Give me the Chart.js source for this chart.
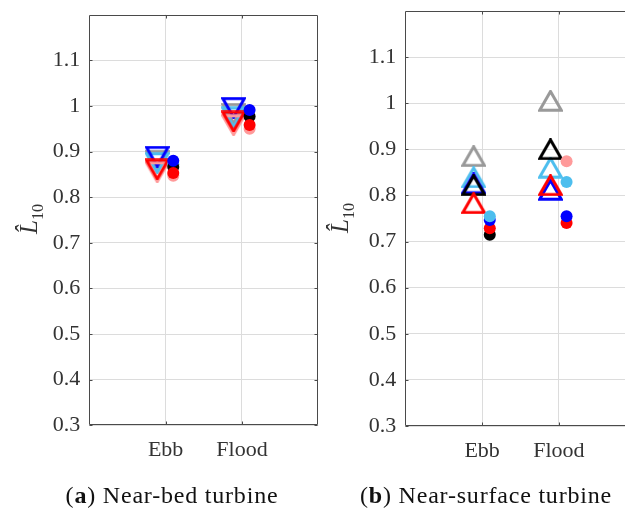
<!DOCTYPE html>
<html><head><meta charset="utf-8">
<script src="https://cdn.jsdelivr.net/npm/chart.js@4"></script>
<style>
html,body{margin:0;padding:0;background:#fff;overflow:hidden}
#wrap{position:relative;width:625px;height:508px;overflow:hidden;background:#fff}
#wrap canvas{position:absolute;top:0}
.ytitle{position:absolute;font-family:"Liberation Serif",serif;font-size:25px;color:#333;transform:translate(-50%,-50%) rotate(-90deg);white-space:nowrap;line-height:1}
.ytitle sub{font-size:16px;font-style:normal}
.cap{position:absolute;font-family:"Liberation Serif",serif;font-size:24px;letter-spacing:0.8px;color:#111;transform:translateX(-50%);white-space:nowrap;top:482px}
</style></head><body>
<div id="wrap">
<canvas id="c1" width="320" height="508" style="left:0"></canvas>
<canvas id="c2" width="320" height="508" style="left:320px"></canvas>
<div class="ytitle" style="left:31px;top:219px"><i>L&#770;</i><sub>10</sub></div>
<div class="ytitle" style="left:342px;top:218px"><i>L&#770;</i><sub>10</sub></div>
<div class="cap" style="left:172px">(<b>a</b>) Near-bed turbine</div>
<div class="cap" style="left:486px">(<b>b</b>) Near-surface turbine</div>
</div>
<script>
// ---- data ----
const categories = ['Ebb', 'Flood'];
const yTicks = [0.3, 0.4, 0.5, 0.6, 0.7, 0.8, 0.9, 1.0, 1.1];
const yTickLabels = ['0.3', '0.4', '0.5', '0.6', '0.7', '0.8', '0.9', '1', '1.1'];

// (a) Near-bed turbine: triangles (down) and dots
const bedTriGrey      = [0.880, 0.983];
const bedTriLightBlue = [0.875, 0.975];
const bedTriBlue      = [0.889, 0.996];
const bedTriPink      = [0.855, 0.958];
const bedTriRed       = [0.861, 0.966];
const bedDotLightBlue = [0.872, null];
const bedDotBlack     = [0.866, 0.977];
const bedDotBlue      = [0.880, 0.991];
const bedDotPink      = [0.847, 0.950];
const bedDotRed       = [0.853, 0.958];

// (b) Near-surface turbine: triangles (up) and dots
const surfTriGrey      = [0.885, 1.005];
const surfTriLightBlue = [0.839, 0.860];
const surfTriBlue      = [0.826, 0.812];
const surfTriBlack     = [0.822, 0.900];
const surfTriRed       = [0.783, 0.822];
const surfDotBlack     = [0.715, null];
const surfDotRed       = [0.729, 0.740];
const surfDotBlue      = [0.747, 0.755];
const surfDotLightBlue = [0.755, 0.829];
const surfDotPink      = [null, 0.874];

// ---- styles ----
const C = {grey:'#999999', black:'#000000', lightblue:'#4DBEEE', blue:'#0000FF', red:'#FF0000', pink:'#FF9a9a'};
const TRI_DX = -0.11, DOT_DX = 0.10;
const FONT = '"Liberation Serif", serif';

function triImg(color, down) {
  const w = 25, h = 22, c = document.createElement('canvas');
  c.width = w; c.height = h;
  const g = c.getContext('2d');
  g.strokeStyle = color; g.lineWidth = 3; g.lineJoin = 'miter';
  g.beginPath();
  if (down) { g.moveTo(1.7, 1.7); g.lineTo(w - 1.7, 1.7); g.lineTo(w / 2, h - 1.5); }
  else { g.moveTo(w / 2, 1.5); g.lineTo(w - 1.7, h - 1.7); g.lineTo(1.7, h - 1.7); }
  g.closePath(); g.stroke();
  return c;
}
function pts(vals, dx) {
  return vals.map((v, i) => v == null ? null : {x: i + 1 + dx, y: v}).filter(p => p);
}
function tri(vals, color, down) {
  return {data: pts(vals, TRI_DX), pointStyle: triImg(color, down), pointRadius: 12, borderColor: color, backgroundColor: color};
}
function dot(vals, color) {
  return {data: pts(vals, DOT_DX), pointStyle: 'circle', pointRadius: 6, borderWidth: 0, backgroundColor: color, borderColor: color};
}

const frame = {
  id: 'frame',
  afterDatasetsDraw(chart) {
    const a = chart.chartArea, g = chart.ctx;
    g.save();
    g.strokeStyle = '#4a4a4a'; g.lineWidth = 1;
    const L = Math.round(a.left) + 0.5, R = Math.round(a.right) - 0.5, T = Math.round(a.top) + 0.5, B = Math.round(a.bottom) - 0.5;
    g.beginPath(); g.rect(L, T, R - L, B - T); g.stroke();
    g.beginPath();
    chart.scales.y.ticks.forEach(t => {
      const y = Math.round(chart.scales.y.getPixelForValue(t.value)) + 0.5;
      g.moveTo(L, y); g.lineTo(L + 3, y); g.moveTo(R, y); g.lineTo(R - 3, y);
    });
    chart.scales.x.ticks.forEach(t => {
      const x = Math.round(chart.scales.x.getPixelForValue(t.value)) + 0.5;
      g.moveTo(x, B); g.lineTo(x, B - 3); g.moveTo(x, T); g.lineTo(x, T + 3);
    });
    g.stroke();
    g.restore();
  }
};

function zeroPad(s) { s.paddingTop = 0; s.paddingBottom = 0; s.paddingLeft = 0; s.paddingRight = 0; }

function makeChart(id, datasetsBottomToTop, pad, yWidth) {
  return new Chart(document.getElementById(id), {
    type: 'scatter',
    data: {datasets: datasetsBottomToTop.slice().reverse()},
    options: {
      responsive: false, animation: false, devicePixelRatio: 1,
      layout: {padding: pad, autoPadding: false},
      plugins: {legend: {display: false}, tooltip: {enabled: false}},
      scales: {
        x: {
          type: 'linear', min: 0, max: 3,
          afterBuildTicks: s => { s.ticks = categories.map((c, i) => ({value: i + 1})); },
          afterFit: s => { s.height = 50; zeroPad(s); },
          ticks: {callback: (v) => categories[v - 1], font: {family: FONT, size: 22}, color: '#333', padding: 12, maxRotation: 0, autoSkip: false},
          grid: {color: '#dcdcdc', lineWidth: 1, drawTicks: false},
          border: {display: false}
        },
        y: {
          min: 0.3, max: 1.2,
          afterBuildTicks: s => { s.ticks = yTicks.map(v => ({value: v})); },
          afterFit: s => { s.width = yWidth; zeroPad(s); },
          ticks: {callback: (v, i) => yTickLabels[i], font: {family: FONT, size: 22}, color: '#333', padding: 9, autoSkip: false},
          grid: {color: '#dcdcdc', lineWidth: 1, drawTicks: false},
          border: {display: false}
        }
      }
    },
    plugins: [frame]
  });
}

makeChart('c1', [
  tri(bedTriGrey, C.grey, true),
  tri(bedTriLightBlue, C.lightblue, true),
  tri(bedTriBlue, C.blue, true),
  tri(bedTriPink, C.pink, true),
  tri(bedTriRed, C.red, true),
  dot(bedDotLightBlue, C.lightblue),
  dot(bedDotBlack, C.black),
  dot(bedDotBlue, C.blue),
  dot(bedDotPink, C.pink),
  dot(bedDotRed, C.red)
], {left: 0, right: 1.7, top: 14.7, bottom: 32.7}, 89.3);

makeChart('c2', [
  tri(surfTriGrey, C.grey, false),
  tri(surfTriLightBlue, C.lightblue, false),
  tri(surfTriBlue, C.blue, false),
  tri(surfTriBlack, C.black, false),
  tri(surfTriRed, C.red, false),
  dot(surfDotBlack, C.black),
  dot(surfDotRed, C.red),
  dot(surfDotBlue, C.blue),
  dot(surfDotLightBlue, C.lightblue),
  dot(surfDotPink, C.pink)
], {left: 0, right: 4.3, top: 11, bottom: 32}, 85.3);
</script>
</body></html>
